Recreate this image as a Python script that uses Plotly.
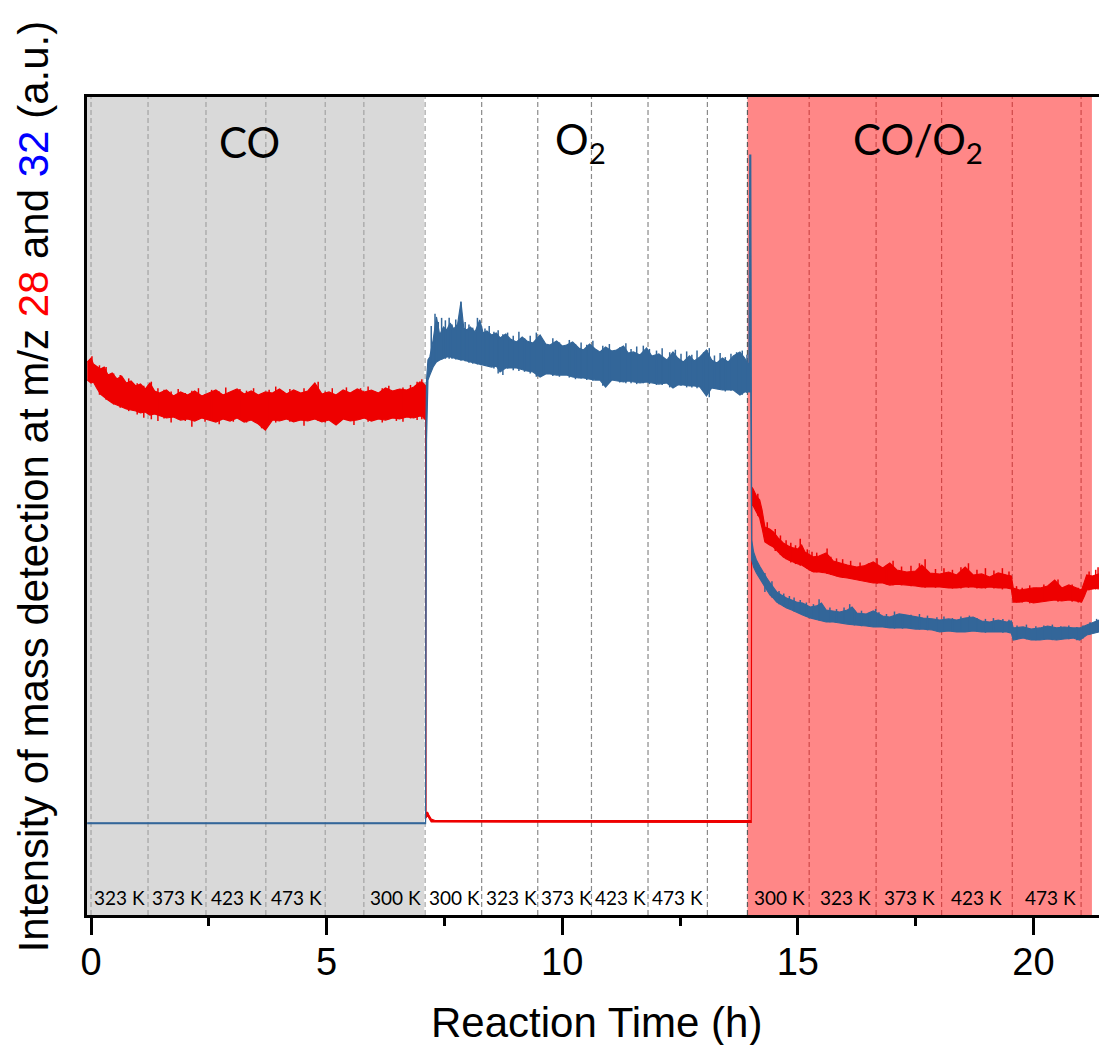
import plotly.graph_objects as go

# ---------------- data (a.u.) ----------------
# m/z 28 (red): CO step
t28_co = [-0.08, 0.0, 0.05, 0.12, 0.2, 0.28, 0.36, 0.45, 0.55, 0.65, 0.75, 0.85, 0.95, 1.05, 1.15, 1.25, 1.35, 1.45,
          1.6, 1.75, 1.9, 2.05, 2.2, 2.35, 2.5, 2.65, 2.8, 2.95, 3.1, 3.25, 3.4, 3.55, 3.7, 3.85, 4.0, 4.15, 4.3, 4.45,
          4.6, 4.75, 4.9, 5.05, 5.2, 5.35, 5.5, 5.65, 5.8, 5.95, 6.1, 6.25, 6.4, 6.55, 6.7, 6.85, 6.98, 7.05, 7.1]
hi28_co = [6.760, 6.809, 6.736, 6.711, 6.675, 6.699, 6.601, 6.626, 6.553, 6.589, 6.504, 6.528, 6.467, 6.491, 6.430, 6.504, 6.406, 6.381,
           6.418, 6.345, 6.394, 6.357, 6.406, 6.345, 6.381, 6.418, 6.357, 6.394, 6.430, 6.369, 6.406, 6.357, 6.394, 6.381, 6.430, 6.369, 6.418, 6.381,
           6.406, 6.504, 6.369, 6.394, 6.357, 6.418, 6.381, 6.430, 6.394, 6.418, 6.381, 6.443, 6.406, 6.430, 6.418, 6.455, 6.516, 6.504, 6.467]
lo28_co = [6.540, 6.504, 6.516, 6.443, 6.369, 6.333, 6.296, 6.259, 6.235, 6.210, 6.186, 6.174, 6.161, 6.137, 6.149, 6.112, 6.125, 6.100,
           6.076, 6.088, 6.051, 6.064, 6.039, 6.076, 6.051, 6.027, 6.064, 6.039, 6.076, 6.027, 6.051, 6.002, 5.929, 6.051, 6.039, 6.064, 6.027, 6.051,
           6.039, 6.064, 6.027, 6.051, 5.990, 6.064, 6.039, 6.051, 6.076, 6.039, 6.064, 6.051, 6.076, 6.064, 6.088, 6.076, 6.100, 6.088, 6.051]
# m/z 28: O2 step (baseline)
t28_o2 = [7.11, 7.14, 7.17, 7.22, 7.3, 14.01]
hi28_o2 = [1.222, 1.259, 1.222, 1.174, 1.155, 1.155]
lo28_o2 = [1.186, 1.222, 1.186, 1.137, 1.131, 1.131]
# m/z 28: CO/O2 step
t28_mx = [14.02, 14.05, 14.12, 14.19, 14.24, 14.3, 14.4, 14.48, 14.58, 14.69, 14.8, 14.9, 15.0, 15.08, 15.15, 15.25, 15.33, 15.45, 15.6, 15.75,
          15.89, 16.05, 16.25, 16.4, 16.6, 16.8, 16.95, 17.1, 17.31, 17.5, 17.63, 17.8, 18.01, 18.2, 18.37, 18.55, 18.72, 18.9, 19.07, 19.25,
          19.43, 19.53, 19.57, 19.7, 19.85, 20.0, 20.14, 20.3, 20.45, 20.6, 20.75, 20.9, 21.02, 21.08, 21.13, 21.25, 21.39]
hi28_mx = [5.232, 5.208, 5.122, 5.073, 4.951, 4.743, 4.719, 4.682, 4.609, 4.548, 4.511, 4.487, 4.474, 4.523, 4.438, 4.401, 4.377, 4.389, 4.425, 4.328,
           4.303, 4.279, 4.254, 4.267, 4.315, 4.242, 4.303, 4.218, 4.193, 4.205, 4.279, 4.181, 4.169, 4.193, 4.156, 4.254, 4.156, 4.169, 4.132, 4.181,
           4.156, 4.144, 3.998, 3.973, 3.985, 3.998, 3.998, 4.022, 4.095, 3.998, 4.034, 3.998, 3.973, 4.071, 4.156, 4.144, 4.169]
lo28_mx = [5.037, 5.012, 4.927, 4.853, 4.731, 4.560, 4.523, 4.499, 4.438, 4.377, 4.340, 4.315, 4.291, 4.279, 4.254, 4.218, 4.193, 4.193, 4.181, 4.156,
           4.132, 4.120, 4.095, 4.083, 4.059, 4.059, 4.034, 4.046, 4.034, 4.022, 4.010, 4.010, 4.010, 3.998, 3.998, 4.010, 4.010, 3.998, 4.010, 3.998,
           3.998, 3.985, 3.826, 3.826, 3.839, 3.814, 3.826, 3.839, 3.851, 3.839, 3.851, 3.839, 3.826, 3.900, 3.973, 3.985, 3.998]
# m/z 28 noise spikes (time, low, high)
spk28_t = [0.02, 0.18, 0.32, 0.48, 0.62, 0.8, 0.98, 1.12, 1.28, 1.42, 1.55, 1.7, 1.85, 2.0, 2.14, 2.28, 2.42, 2.56, 2.72, 2.86,
           3.02, 3.16, 3.3, 3.45, 3.62, 3.78, 3.92, 4.08, 4.22, 4.38, 4.52, 4.68, 4.82, 4.97, 5.12, 5.28, 5.42, 5.58, 5.72, 5.88,
           6.02, 6.18, 6.32, 6.48, 6.62, 6.78, 6.92, 7.02, 7.07,
           14.15, 14.35, 14.52, 14.63, 14.75, 14.85, 14.95, 15.05, 15.2, 15.3, 15.4, 15.52, 15.62, 15.7, 15.82, 15.95, 16.12, 16.32, 16.5, 16.68,
           16.88, 17.02, 17.2, 17.4, 17.58, 17.7, 17.92, 18.1, 18.28, 18.46, 18.62, 18.8, 18.98, 19.16, 19.34, 19.48, 19.64, 19.76, 19.92, 20.06,
           20.22, 20.38, 20.52, 20.68, 20.82, 20.95, 21.18, 21.32, 21.37]
spk28_lo = [6.52, 6.36, 6.30, 6.24, 6.20, 6.16, 6.12, 6.08, 6.06, 6.04, 6.07, 6.02, 6.06, 6.04, 5.97, 6.06, 6.03, 6.05, 6.00, 6.06,
            6.03, 6.05, 6.02, 6.06, 5.95, 6.05, 6.02, 6.06, 6.03, 6.05, 5.98, 6.06, 6.04, 6.02, 6.06, 6.03, 6.05, 5.99, 6.06, 6.03,
            6.05, 6.02, 6.06, 6.04, 6.03, 6.07, 6.05, 6.06, 6.06,
            4.88, 4.55, 4.45, 4.40, 4.35, 4.31, 4.29, 4.27, 4.23, 4.20, 4.19, 4.18, 4.17, 4.16, 4.14, 4.12, 4.11, 4.09, 4.07, 4.05,
            4.04, 4.03, 4.03, 4.02, 4.01, 4.00, 4.00, 4.00, 3.99, 3.99, 4.00, 3.99, 3.99, 3.99, 3.98, 3.99, 3.82, 3.82, 3.81, 3.82,
            3.83, 3.84, 3.83, 3.84, 3.83, 3.82, 3.97, 3.98, 3.98]
spk28_hi = [6.83, 6.72, 6.70, 6.62, 6.60, 6.56, 6.50, 6.47, 6.52, 6.44, 6.42, 6.40, 6.43, 6.38, 6.41, 6.44, 6.37, 6.42, 6.40, 6.45,
            6.39, 6.43, 6.41, 6.44, 6.38, 6.42, 6.46, 6.40, 6.43, 6.39, 6.44, 6.41, 6.52, 6.40, 6.44, 6.39, 6.45, 6.41, 6.44, 6.46,
            6.40, 6.44, 6.47, 6.42, 6.45, 6.48, 6.52, 6.55, 6.45,
            5.15, 4.80, 4.72, 4.64, 4.58, 4.55, 4.52, 4.60, 4.47, 4.44, 4.43, 4.40, 4.48, 4.38, 4.36, 4.35, 4.33, 4.31, 4.30, 4.36,
            4.28, 4.33, 4.26, 4.27, 4.30, 4.35, 4.23, 4.24, 4.22, 4.25, 4.30, 4.22, 4.24, 4.21, 4.24, 4.20, 4.02, 4.00, 4.03, 4.00,
            4.04, 4.05, 4.10, 4.01, 4.04, 4.00, 4.20, 4.22, 4.25]

# m/z 32 (blue): CO step (baseline)
t32_co = [-0.08, 7.1]
hi32_co = [1.128, 1.128]
lo32_co = [1.118, 1.118]
# m/z 32: O2 step
t32_o2 = [7.11, 7.12, 7.15, 7.19, 7.26, 7.33, 7.4, 7.48, 7.55, 7.62, 7.7, 7.78, 7.85, 7.91, 7.97, 8.05, 8.15, 8.25, 8.32, 8.4,
          8.5, 8.6, 8.68, 8.8, 8.9, 9.03, 9.15, 9.25, 9.38, 9.53, 9.65, 9.74, 9.88, 10.0, 10.09, 10.22, 10.35, 10.45, 10.58, 10.7,
          10.8, 10.92, 11.05, 11.15, 11.3, 11.4, 11.51, 11.65, 11.79, 11.9, 12.05, 12.22, 12.35, 12.45, 12.57, 12.7, 12.8, 12.92, 13.06, 13.17,
          13.28, 13.4, 13.52, 13.63, 13.77, 13.87, 13.96]
hi32_o2 = [6.051, 6.540, 6.785, 6.822, 7.029, 7.311, 7.090, 7.188, 7.152, 7.237, 7.164, 7.225, 7.494, 7.176, 7.152, 7.188, 7.127, 7.274, 7.115, 7.139,
           7.090, 7.115, 7.054, 7.103, 7.042, 7.005, 7.066, 7.017, 6.993, 7.090, 6.980, 6.968, 7.017, 6.956, 6.968, 7.005, 6.932, 6.907, 6.980, 6.919,
           6.883, 6.944, 6.895, 6.907, 6.956, 6.870, 6.883, 6.846, 6.932, 6.834, 6.858, 6.785, 6.883, 6.809, 6.760, 6.834, 6.773, 6.822, 6.907, 6.785,
           6.748, 6.809, 6.760, 6.834, 6.883, 6.809, 6.724]
lo32_o2 = [1.125, 5.807, 6.540, 6.601, 6.699, 6.760, 6.785, 6.809, 6.822, 6.822, 6.809, 6.797, 6.785, 6.785, 6.773, 6.760, 6.748, 6.736, 6.724, 6.711,
           6.699, 6.711, 6.638, 6.687, 6.687, 6.687, 6.663, 6.650, 6.638, 6.577, 6.614, 6.614, 6.601, 6.601, 6.601, 6.577, 6.565, 6.565, 6.553, 6.540,
           6.540, 6.455, 6.540, 6.528, 6.516, 6.528, 6.516, 6.504, 6.516, 6.504, 6.491, 6.504, 6.443, 6.479, 6.479, 6.467, 6.467, 6.455, 6.345, 6.443,
           6.430, 6.418, 6.418, 6.418, 6.357, 6.394, 6.394]
# m/z 32: CO/O2 step
t32_mx = [13.98, 14.0, 14.02, 14.06, 14.12, 14.2, 14.27, 14.34, 14.41, 14.48, 14.55, 14.65, 14.76, 14.87, 14.97, 15.1, 15.26, 15.4, 15.5, 15.6,
          15.75, 15.89, 16.05, 16.15, 16.25, 16.45, 16.6, 16.8, 16.95, 17.15, 17.31, 17.5, 17.66, 17.85, 18.01, 18.2, 18.37, 18.55, 18.72, 18.9,
          19.07, 19.25, 19.43, 19.53, 19.57, 19.78, 19.95, 20.14, 20.3, 20.49, 20.65, 20.84, 20.98, 21.13, 21.27, 21.39]
hi32_mx = [9.291, 9.291, 4.584, 4.438, 4.340, 4.254, 4.181, 4.120, 4.059, 3.998, 3.949, 3.912, 3.875, 3.851, 3.826, 3.814, 3.765, 3.778, 3.814, 3.729,
           3.716, 3.704, 3.729, 3.765, 3.692, 3.680, 3.716, 3.655, 3.643, 3.680, 3.667, 3.643, 3.631, 3.619, 3.606, 3.619, 3.606, 3.631, 3.643, 3.594,
           3.582, 3.606, 3.582, 3.594, 3.509, 3.521, 3.496, 3.509, 3.533, 3.509, 3.521, 3.509, 3.509, 3.545, 3.582, 3.606]
lo32_mx = [6.394, 6.394, 4.340, 4.254, 4.181, 4.095, 4.034, 3.973, 3.912, 3.875, 3.826, 3.790, 3.753, 3.729, 3.704, 3.667, 3.631, 3.606, 3.594, 3.582,
           3.582, 3.570, 3.557, 3.545, 3.545, 3.533, 3.521, 3.521, 3.509, 3.509, 3.509, 3.496, 3.496, 3.484, 3.460, 3.472, 3.460, 3.460, 3.472, 3.460,
           3.460, 3.460, 3.460, 3.447, 3.362, 3.386, 3.362, 3.362, 3.374, 3.362, 3.374, 3.386, 3.362, 3.423, 3.447, 3.460]
# m/z 32 noise spikes (time, low, high)
spk32_t = [7.22, 7.3, 7.37, 7.44, 7.52, 7.6, 7.66, 7.74, 7.85, 7.94, 8.02, 8.1, 8.2, 8.28, 8.36, 8.45, 8.55, 8.64, 8.74, 8.84,
           8.96, 9.08, 9.2, 9.32, 9.45, 9.6, 9.8, 9.94, 10.15, 10.28, 10.4, 10.52, 10.65, 10.86, 11.0, 11.22, 11.35, 11.46, 11.58, 11.72,
           11.85, 12.0, 12.12, 12.28, 12.4, 12.52, 12.64, 12.75, 12.86, 13.0, 13.12, 13.23, 13.35, 13.46, 13.58, 13.7, 13.82, 13.92,
           14.3, 14.45, 14.6, 14.7, 14.82, 14.92, 15.05, 15.18, 15.33, 15.45, 15.68, 15.82, 15.98, 16.1, 16.2, 16.35, 16.52, 16.65, 16.72, 16.88,
           17.05, 17.22, 17.4, 17.58, 17.75, 17.95, 18.1, 18.28, 18.46, 18.64, 18.8, 18.98, 19.15, 19.35, 19.48, 19.65, 19.85, 20.05, 20.22, 20.4,
           20.58, 20.75, 20.92, 21.05, 21.2, 21.34]
spk32_lo = [6.75, 6.75, 6.78, 6.79, 6.80, 6.80, 6.80, 6.79, 6.78, 6.77, 6.75, 6.74, 6.73, 6.72, 6.71, 6.70, 6.68, 6.62, 6.60, 6.68,
            6.66, 6.65, 6.64, 6.62, 6.58, 6.60, 6.59, 6.58, 6.57, 6.55, 6.56, 6.54, 6.53, 6.47, 6.52, 6.51, 6.50, 6.50, 6.49, 6.50,
            6.49, 6.48, 6.48, 6.45, 6.46, 6.47, 6.45, 6.45, 6.44, 6.40, 6.33, 6.43, 6.42, 6.40, 6.41, 6.39, 6.36, 6.38,
            3.95, 3.88, 3.80, 3.77, 3.74, 3.71, 3.68, 3.65, 3.62, 3.60, 3.58, 3.57, 3.56, 3.55, 3.54, 3.53, 3.53, 3.52, 3.52, 3.51,
            3.50, 3.50, 3.50, 3.49, 3.48, 3.47, 3.47, 3.46, 3.46, 3.46, 3.46, 3.45, 3.46, 3.45, 3.45, 3.37, 3.37, 3.36, 3.37, 3.36,
            3.37, 3.37, 3.36, 3.38, 3.43, 3.45]
spk32_hi = [7.20, 7.35, 7.25, 7.30, 7.27, 7.30, 7.22, 7.28, 7.50, 7.25, 7.22, 7.18, 7.30, 7.20, 7.17, 7.20, 7.13, 7.15, 7.10, 7.12,
            7.08, 7.13, 7.05, 7.08, 7.12, 7.02, 7.05, 7.00, 7.03, 6.98, 7.00, 6.97, 7.02, 6.96, 6.98, 6.94, 6.99, 6.92, 6.95, 6.96,
            6.92, 6.90, 6.93, 6.88, 6.91, 6.86, 6.89, 6.85, 6.90, 6.88, 6.93, 6.84, 6.87, 6.82, 6.86, 6.88, 6.90, 6.85,
            4.18, 4.08, 3.96, 3.93, 3.90, 3.88, 3.85, 3.82, 3.80, 3.86, 3.76, 3.74, 3.76, 3.80, 3.73, 3.72, 3.70, 3.74, 3.70, 3.68,
            3.71, 3.68, 3.67, 3.68, 3.66, 3.64, 3.65, 3.63, 3.65, 3.66, 3.63, 3.62, 3.63, 3.62, 3.61, 3.54, 3.55, 3.53, 3.54, 3.55,
            3.53, 3.54, 3.52, 3.54, 3.58, 3.62]

# gas periods (h)
gas_names = ["CO", "O<sub>2</sub>", "CO/O<sub>2</sub>"]
gas_label_t = [3.37, 10.38, 17.55]
gray_span = [-0.085, 7.07]
pink_span = [13.93, 21.24]
# temperature-step boundaries (h)
step_lines_co = [0.0, 1.21, 2.44, 3.71, 4.97, 5.79, 7.09]
step_lines_o2 = [8.29, 9.48, 10.62, 11.82, 13.08]
step_line_switch = [13.93]
step_lines_mx = [15.24, 16.66, 18.05, 19.55, 21.01]
# temperature labels
temp_t = [0.615, 1.835, 3.09, 4.35, 6.46, 7.72, 8.93, 10.08, 11.24, 12.44, 14.6, 16.0, 17.36, 18.79, 20.36]
temp_labels = ["323 K", "373 K", "423 K", "473 K", "300 K",
               "300 K", "323 K", "373 K", "423 K", "473 K",
               "300 K", "323 K", "373 K", "423 K", "473 K"]

x_ticks = [0, 5, 10, 15, 20]
x_minor = [2.5, 7.5, 12.5, 17.5]

RED = "#ee0000"
BLUE = "#336699"


def band(ts, his, los):
    return ts + ts[::-1], his + los[::-1]


def spikes(ts, los, his):
    xs, ys = [], []
    for t, lo, hi in zip(ts, los, his):
        xs += [t, t, None]
        ys += [lo, hi, None]
    return xs, ys


fig = go.Figure()

for (ts, hs, ls, st, sl, sh, col) in [
    (t28_co + t28_o2 + t28_mx, hi28_co + hi28_o2 + hi28_mx, lo28_co + lo28_o2 + lo28_mx,
     spk28_t, spk28_lo, spk28_hi, RED),
    (t32_co + t32_o2 + t32_mx, hi32_co + hi32_o2 + hi32_mx, lo32_co + lo32_o2 + lo32_mx,
     spk32_t, spk32_lo, spk32_hi, BLUE),
]:
    bx, by = band(ts, hs, ls)
    fig.add_trace(go.Scatter(x=bx, y=by, mode="lines", fill="toself", fillcolor=col,
                             line=dict(color=col, width=1.2), hoverinfo="skip", showlegend=False))
    sx, sy = spikes(st, sl, sh)
    fig.add_trace(go.Scatter(x=sx, y=sy, mode="lines", line=dict(color=col, width=1.5),
                             hoverinfo="skip", showlegend=False))

shapes = []
shapes.append(dict(type="rect", xref="x", yref="paper", x0=gray_span[0], x1=gray_span[1], y0=0, y1=1,
                   fillcolor="#d9d9d9", line=dict(width=0), layer="below"))
shapes.append(dict(type="rect", xref="x", yref="paper", x0=pink_span[0], x1=pink_span[1], y0=0, y1=1,
                   fillcolor="#ff8787", line=dict(width=0), layer="below"))
for xs, col in [(step_lines_co, "#a3a3a3"), (step_lines_o2, "#8a8a8a"),
                (step_line_switch, "#5a5a5a"), (step_lines_mx, "#cf4848")]:
    for xv in xs:
        shapes.append(dict(type="line", xref="x", yref="paper", x0=xv, x1=xv, y0=0, y1=1,
                           line=dict(color=col, width=1.2, dash="5px,3px"), layer="below"))

ann = []
for tv, lab in zip(temp_t, temp_labels):
    ann.append(dict(x=tv, y=0.22, xref="x", yref="y", text=lab, showarrow=False,
                    font=dict(family="Lato", size=19, color="black"), xanchor="center", yanchor="middle"))
for tv, lab in zip(gas_label_t, gas_names):
    ann.append(dict(x=tv, y=9.45, xref="x", yref="y", text=lab, showarrow=False,
                    font=dict(family="Lato", size=42, color="black"), xanchor="center", yanchor="middle"))
ann.append(dict(x=-0.0534, y=0.524, xref="paper", yref="paper", textangle=-90, showarrow=False,
                text='Intensity of mass detection at m/z <span style="color:#ff0000">28</span> and '
                     '<span style="color:#0000ff">32</span> (a.u.)',
                font=dict(family="Liberation Sans, Arial", size=42, color="black"),
                xanchor="center", yanchor="middle"))
ann.append(dict(x=0.503, y=-0.131, xref="paper", yref="paper", text="Reaction Time (h)", showarrow=False,
                font=dict(family="Liberation Sans, Arial", size=42, color="black"),
                xanchor="center", yanchor="middle"))

fig.update_layout(
    width=1099, height=1045,
    margin=dict(l=87, r=0, t=97, b=130),
    plot_bgcolor="white", paper_bgcolor="white",
    shapes=shapes, annotations=ann,
    showlegend=False,
)
fig.update_xaxes(range=[-0.085, 21.39], tickvals=x_ticks, ticks="outside", ticklen=17, tickwidth=2.5,
                 tickcolor="black", showline=True, linewidth=3, linecolor="black", mirror=True,
                 showgrid=False, zeroline=False, ticklabelstandoff=-6,
                 tickfont=dict(family="Liberation Sans, Arial", size=38, color="black"),
                 minor=dict(tickvals=x_minor, ticks="outside", ticklen=8, tickwidth=2.5, tickcolor="black"))
fig.update_yaxes(range=[0, 10], showticklabels=False, ticks="", showline=True, linewidth=3,
                 linecolor="black", showgrid=False, zeroline=False)

fig.write_html("out.html")
